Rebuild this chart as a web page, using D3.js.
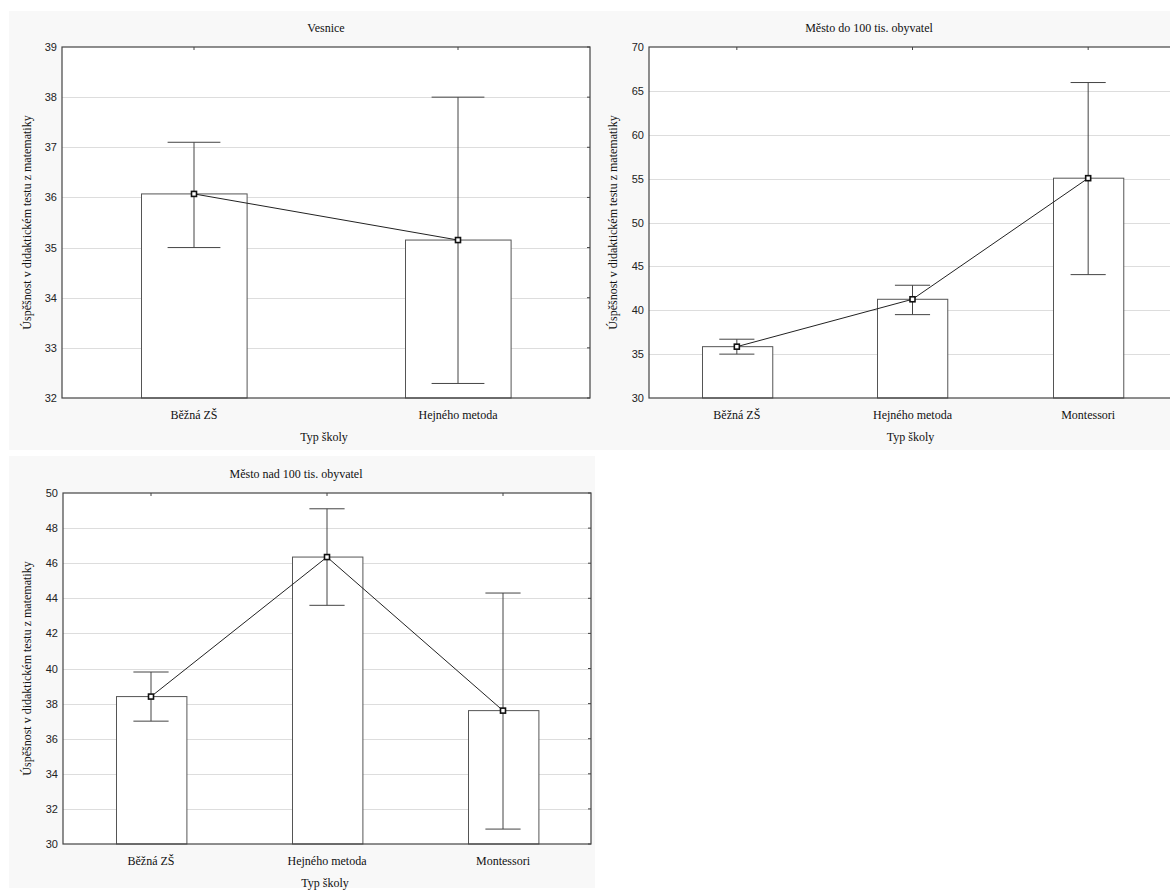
<!DOCTYPE html>
<meta charset="utf-8">
<style>
body { margin: 0; background: #fff; }
.grid { stroke: #dddddd; stroke-width: 1; }
.frame { fill: none; stroke: #444; stroke-width: 1.2; }
.bar { fill: #fff; stroke: #555; stroke-width: 1; }
.err { stroke: #444; stroke-width: 1; fill: none; }
.meanline { stroke: #222; stroke-width: 1; fill: none; }
.marker { fill: #fff; stroke: #111; stroke-width: 1.6; }
</style>
<svg width="1170" height="891"></svg>
<script src="https://d3js.org/d3.v7.min.js"></script>
<script>

// ---- data ----
var yTitle = "Úspěšnost v didaktickém testu z matematiky";
var xTitle = "Typ školy";

var vesniceCats = ["Běžná ZŠ", "Hejného metoda"];
var vesniceMean = [36.07, 35.15];
var vesniceLow  = [35.0, 32.29];
var vesniceHigh = [37.1, 38.0];
var vesniceTicks = [32, 33, 34, 35, 36, 37, 38, 39];

var doCats = ["Běžná ZŠ", "Hejného metoda", "Montessori"];
var doMean = [35.85, 41.25, 55.05];
var doLow  = [35.0, 39.5, 44.06];
var doHigh = [36.7, 42.85, 65.95];
var doTicks = [30, 35, 40, 45, 50, 55, 60, 65, 70];

var nadCats = ["Běžná ZŠ", "Hejného metoda", "Montessori"];
var nadMean = [38.4, 46.35, 37.6];
var nadLow  = [37.0, 43.6, 30.85];
var nadHigh = [39.8, 49.1, 44.3];
var nadTicks = [30, 32, 34, 36, 38, 40, 42, 44, 46, 48, 50];

var SERIF = '"Liberation Serif", "Times New Roman", serif';
var SANS = '"Liberation Sans", Arial, sans-serif';

var svg = d3.select("svg");

// panel backgrounds
svg.append("rect").attr("x", 9).attr("y", 11).attr("width", 1161).attr("height", 439).attr("fill", "#f8f8f8");
svg.append("rect").attr("x", 9).attr("y", 456).attr("width", 586).attr("height", 432).attr("fill", "#f8f8f8");

function serifText(sel, size) {
  return sel.style("font-family", SERIF)
      .style("font-size", size + "px")
      .style("font-weight", "normal")
      .attr("fill", "#111");
}

function panel(o) {
  var x = d3.scaleBand()
      .domain(o.cats)
      .range([o.left, o.right])
      .paddingInner(0.6)
      .paddingOuter(0.3);
  var y = d3.scaleLinear()
      .domain([o.ticks[0], o.ticks[o.ticks.length - 1]])
      .range([o.bottom, o.top]);
  var g = svg.append("g");

  g.append("rect")
      .attr("x", o.left).attr("y", o.top)
      .attr("width", o.right - o.left).attr("height", o.bottom - o.top)
      .attr("fill", "#fff");

  // grid
  g.selectAll(".grid").data(o.ticks.slice(1, -1)).enter().append("line")
      .attr("class", "grid")
      .attr("x1", o.left).attr("x2", o.right)
      .attr("y1", function(d) { return Math.round(y(d)) + 0.5; })
      .attr("y2", function(d) { return Math.round(y(d)) + 0.5; });

  // y axis
  var ya = g.append("g")
      .attr("transform", "translate(" + o.left + ",0)")
      .call(d3.axisLeft(y).tickValues(o.ticks).tickSize(0).tickPadding(5).tickFormat(d3.format("d")));
  ya.select(".domain").remove();
  ya.attr("font-family", null).attr("font-size", null);
  ya.selectAll("text")
      .style("font-family", SANS)
      .style("font-size", "11px")
      .attr("fill", "#222");

  // small inner ticks on the right side
  g.selectAll(".rt").data(o.ticks).enter().append("line")
      .attr("stroke", "#444")
      .attr("x1", o.right - 3).attr("x2", o.right)
      .attr("y1", function(d) { return y(d); })
      .attr("y2", function(d) { return y(d); });

  // x axis
  var xa = g.append("g")
      .attr("transform", "translate(0," + o.bottom + ")")
      .call(d3.axisBottom(x).tickSize(-3).tickPadding(12));
  xa.select(".domain").remove();
  xa.attr("font-family", null).attr("font-size", null);
  xa.selectAll("line").attr("stroke", "#444");
  serifText(xa.selectAll("text"), 12);

  // top ticks
  g.selectAll(".tt").data(o.cats).enter().append("line")
      .attr("stroke", "#444")
      .attr("x1", function(d) { return x(d) + x.bandwidth() / 2; })
      .attr("x2", function(d) { return x(d) + x.bandwidth() / 2; })
      .attr("y1", o.top).attr("y2", o.top + 3);

  // bars
  g.selectAll(".bar").data(o.cats).enter().append("rect")
      .attr("class", "bar")
      .attr("x", function(d) { return Math.round(x(d)) + 0.5; })
      .attr("width", x.bandwidth())
      .attr("y", function(d, i) { return y(o.mean[i]); })
      .attr("height", function(d, i) { return o.bottom - y(o.mean[i]); });

  // error bars
  var cap = x.bandwidth() / 4;
  o.cats.forEach(function(c, i) {
    var cx = x(c) + x.bandwidth() / 2;
    var e = g.append("g").attr("class", "err");
    e.append("line").attr("x1", cx).attr("x2", cx).attr("y1", y(o.low[i])).attr("y2", y(o.high[i]));
    e.append("line").attr("x1", cx - cap).attr("x2", cx + cap).attr("y1", y(o.low[i])).attr("y2", y(o.low[i]));
    e.append("line").attr("x1", cx - cap).attr("x2", cx + cap).attr("y1", y(o.high[i])).attr("y2", y(o.high[i]));
  });

  // mean line + markers
  var line = d3.line()
      .x(function(d) { return x(d.c) + x.bandwidth() / 2; })
      .y(function(d) { return y(d.v); });
  var pts = o.cats.map(function(c, i) { return { c: c, v: o.mean[i] }; });
  g.append("path").attr("class", "meanline").attr("d", line(pts));
  g.selectAll(".marker").data(pts).enter().append("rect")
      .attr("class", "marker")
      .attr("x", function(d) { return x(d.c) + x.bandwidth() / 2 - 2.5; })
      .attr("y", function(d) { return y(d.v) - 2.5; })
      .attr("width", 5).attr("height", 5);

  // frame
  g.append("rect").attr("class", "frame")
      .attr("x", o.left).attr("y", o.top)
      .attr("width", o.right - o.left).attr("height", o.bottom - o.top);

  // titles
  serifText(g.append("text"), 12)
      .attr("x", o.titleX).attr("y", o.top - 15)
      .attr("text-anchor", "middle")
      .text(o.title);
  serifText(g.append("text"), 12)
      .attr("x", (o.left + o.right) / 2 - 2).attr("y", o.bottom + 43)
      .attr("text-anchor", "middle")
      .text(xTitle);
  serifText(g.append("text"), 12)
      .attr("transform", "translate(" + o.yLabelX + "," + ((o.top + o.bottom) / 2) + ") rotate(-90)")
      .attr("text-anchor", "middle")
      .text(yTitle);
}

panel({ cats: vesniceCats, mean: vesniceMean, low: vesniceLow, high: vesniceHigh, ticks: vesniceTicks,
  left: 62, right: 590, top: 47, bottom: 398, title: "Vesnice", titleX: 326, yLabelX: 31 });
panel({ cats: doCats, mean: doMean, low: doLow, high: doHigh, ticks: doTicks,
  left: 649, right: 1176, top: 47, bottom: 398, title: "Město do 100 tis. obyvatel", titleX: 869, yLabelX: 617 });
panel({ cats: nadCats, mean: nadMean, low: nadLow, high: nadHigh, ticks: nadTicks,
  left: 63, right: 591, top: 493, bottom: 844, title: "Město nad 100 tis. obyvatel", titleX: 296, yLabelX: 31 });

</script>
